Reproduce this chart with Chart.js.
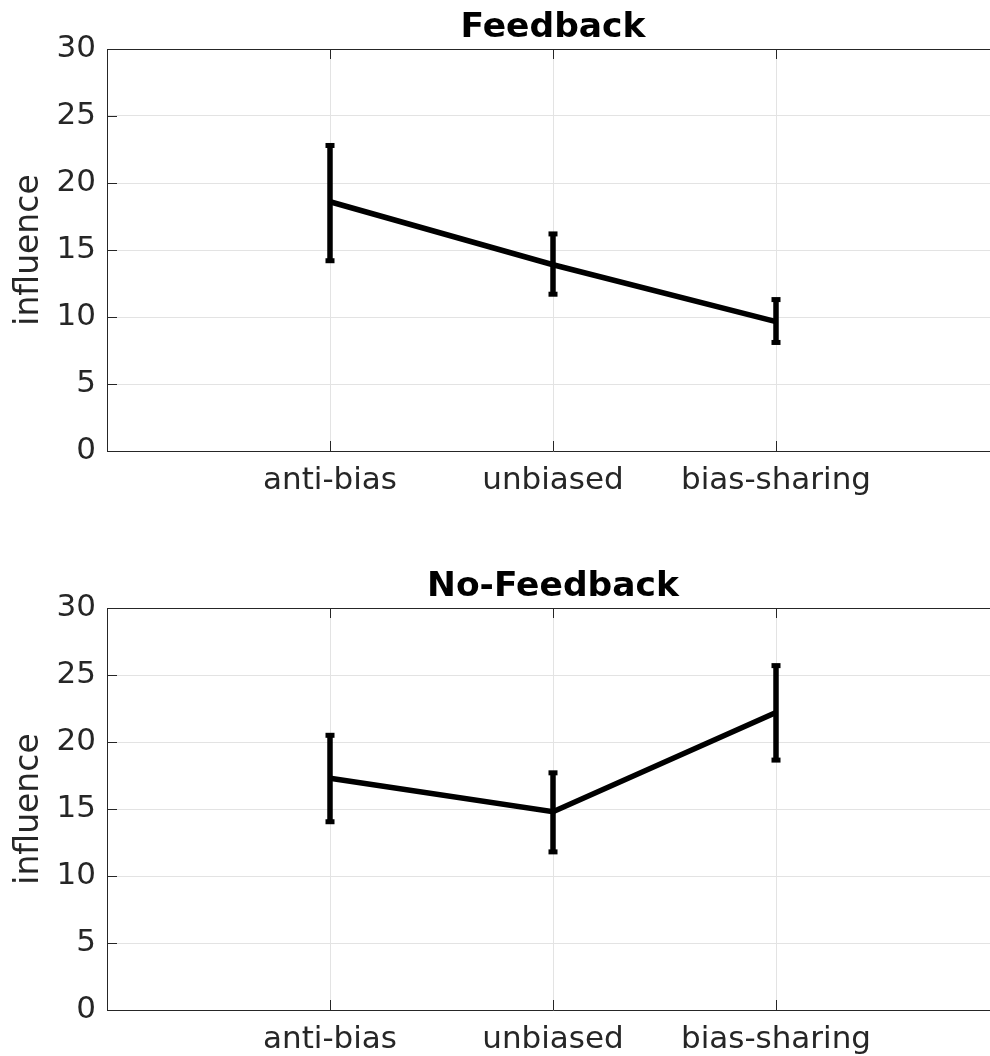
<!DOCTYPE html>
<html>
<head>
<meta charset="utf-8">
<script src="https://cdn.jsdelivr.net/npm/chart.js@4"></script>
<style>
html, body { margin: 0; padding: 0; background: #fff; overflow: hidden; width: 990px; height: 1056px; }
canvas { display: block; }
</style>
</head>
<body>
<canvas id="feedback" width="1000" height="510"></canvas>
<canvas id="noFeedback" width="1000" height="546"></canvas>
<script>
// values
const categories = ['anti-bias', 'unbiased', 'bias-sharing'];
const yTicks = [0, 5, 10, 15, 20, 25, 30];

const feedbackMean = [18.6, 13.9, 9.65];
const feedbackLow = [14.2, 11.7, 8.1];
const feedbackHigh = [22.8, 16.2, 11.3];

const noFeedbackMean = [17.3, 14.8, 22.2];
const noFeedbackLow = [14.05, 11.8, 18.65];
const noFeedbackHigh = [20.5, 17.7, 25.7];

const ink = '#262626';
const font = 'DejaVu Sans';

// vertical error bars with small square caps
const errorBars = {
  id: 'errorbars',
  afterDatasetsDraw(chart, args, opts) {
    const x = chart.scales.x, y = chart.scales.y, ctx = chart.ctx;
    ctx.save();
    ctx.strokeStyle = '#000';
    ctx.fillStyle = '#000';
    ctx.lineWidth = 5.5;
    opts.low.forEach(function(lo, i) {
      const px = x.getPixelForValue(i + 1);
      const top = y.getPixelForValue(opts.high[i]);
      const bot = y.getPixelForValue(lo);
      ctx.beginPath();
      ctx.moveTo(px, top);
      ctx.lineTo(px, bot);
      ctx.stroke();
      ctx.fillRect(px - 4.5, top - 2.5, 9, 5);
      ctx.fillRect(px - 4.5, bot - 2.5, 9, 5);
    });
    ctx.restore();
  }
};

// box top line and inward tick marks
const frame = {
  id: 'frame',
  beforeDatasetsDraw(chart) {
    const a = chart.chartArea, ctx = chart.ctx;
    const xs = chart.scales.x, ys = chart.scales.y;
    ctx.save();
    ctx.strokeStyle = ink;
    ctx.lineWidth = 1;
    ctx.beginPath();
    ctx.moveTo(a.left, a.top + 0.5);
    ctx.lineTo(a.right, a.top + 0.5);
    ys.ticks.forEach(function(t) {
      const py = Math.round(ys.getPixelForValue(t.value)) + 0.5;
      ctx.moveTo(a.left, py);
      ctx.lineTo(a.left + 10, py);
    });
    xs.ticks.forEach(function(t) {
      const px = Math.round(xs.getPixelForValue(t.value)) + 0.5;
      ctx.moveTo(px, a.bottom);
      ctx.lineTo(px, a.bottom - 10);
      ctx.moveTo(px, a.top);
      ctx.lineTo(px, a.top + 10);
    });
    ctx.stroke();
    ctx.restore();
  }
};

function makeChart(id, title, mean, low, high, titlePad, xHeight) {
  const points = categories.map(function(c, i) {
    return { x: i + 1, y: mean[i] };
  });
  return new Chart(document.getElementById(id), {
    type: 'line',
    data: {
      datasets: [{
        data: points,
        borderColor: '#000',
        borderWidth: 5.5,
        pointRadius: 0,
        tension: 0
      }]
    },
    plugins: [frame, errorBars],
    options: {
      responsive: false,
      animation: false,
      devicePixelRatio: 1,
      layout: { padding: { left: 0, right: 1, top: 0, bottom: 0 } },
      plugins: {
        legend: { display: false },
        tooltip: { enabled: false },
        title: {
          display: true,
          fullSize: false,
          text: title,
          color: '#000',
          font: { family: font, size: 34.5, weight: 'bold', lineHeight: 1.2 },
          padding: titlePad
        },
        errorbars: { low: low, high: high }
      },
      scales: {
        x: {
          type: 'linear',
          min: 0,
          max: 4,
          afterBuildTicks: function(scale) {
            scale.ticks = categories.map(function(c, i) { return { value: i + 1 }; });
          },
          afterFit: function(scale) { scale.height = xHeight; },
          grid: { color: '#e3e3e3', drawTicks: false },
          border: { display: true, color: ink, width: 1 },
          ticks: {
            color: ink,
            font: { family: font, size: 31 },
            padding: 11,
            autoSkip: false,
            maxRotation: 0,
            callback: function(v) { return categories[v - 1]; }
          }
        },
        y: {
          min: 0,
          max: 30,
          afterBuildTicks: function(scale) {
            scale.ticks = yTicks.map(function(v) { return { value: v }; });
          },
          afterFit: function(scale) { scale.width = 107; },
          grid: { color: '#e3e3e3', drawTicks: false },
          border: { display: true, color: ink, width: 1 },
          ticks: {
            color: ink,
            font: { family: font, size: 31 },
            padding: 11
          },
          title: {
            display: true,
            text: 'influence',
            color: ink,
            font: { family: font, size: 33, lineHeight: 1.2 },
            padding: { top: 10, bottom: 0 }
          }
        }
      }
    }
  });
}

makeChart('feedback', 'Feedback', feedbackMean, feedbackLow, feedbackHigh,
  { top: 7, bottom: 0.6 }, 59);
makeChart('noFeedback', 'No-Feedback', noFeedbackMean, noFeedbackLow, noFeedbackHigh,
  { top: 56, bottom: 0.6 }, 46);
</script>
</body>
</html>
